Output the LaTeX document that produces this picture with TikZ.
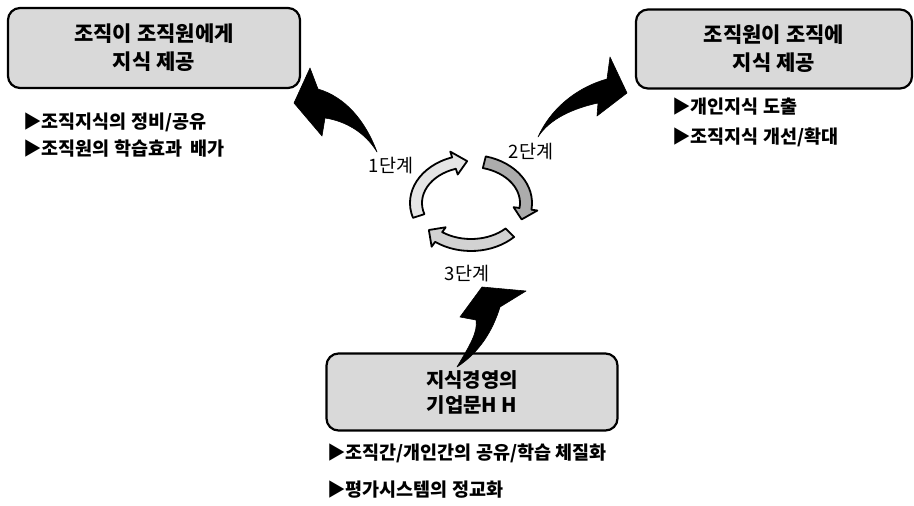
\documentclass[tikz,border=0pt]{standalone}
\usepackage{fontspec}
\setmainfont{Noto Sans CJK KR}
\usetikzlibrary{calc, positioning}

% one piece of the cycle: start, end, tip angle, fill
\newcommand{\cyclearc}[4]{%
  \filldraw[cycpart, fill=#4] ($(cc)+(#1:61 and 48)$)
    arc[start angle=#1, end angle=#2, x radius=61, y radius=48]
    -- ($(cc)+(#2:67 and 54)$) -- ($(cc)+(#3:55 and 42)$)
    -- ($(cc)+(#2:43 and 30)$) -- ($(cc)+(#2:49 and 36)$)
    arc[start angle=#2, end angle=#1, x radius=49, y radius=36] -- cycle;}

\begin{document}
\begin{tikzpicture}[x=1pt, y=-1pt,
  headbox/.style={draw=black, line width=2.2pt, rounded corners=12pt, fill=gray!30,
    align=center, inner sep=0pt, font=\fontsize{21}{28}\selectfont\bfseries},
  bullet/.style={anchor=west, inner sep=0pt, font=\fontsize{18.5}{20}\selectfont\bfseries},
  steplabel/.style={inner sep=0pt, font=\fontsize{18.5}{20}\selectfont},
  bigarrow/.style={fill=black, draw=black, line width=0.6pt, line join=round},
  cycpart/.style={draw=black, line width=1.8pt, line join=round}]
\useasboundingbox (0,0) rectangle (914,506);

% boxes
\node[headbox, minimum width=292pt, minimum height=80pt] (boxorg) at (154,48)
  {조직이 조직원에게\\지식 제공};
\node[headbox, minimum width=276pt, minimum height=79pt] (boxmem) at (774,49)
  {조직원이 조직에\\지식 제공};
\node[headbox, minimum width=291pt, minimum height=77pt, font=\fontsize{20}{25}\selectfont\bfseries] (boxbase) at (472,392)
  {지식경영의\\기업문H H};

% bullets
\node[bullet] (lb1) at (23,122) {▶조직지식의 정비/공유};
\node[bullet] (lb2) at (23,149) {▶조직원의 학습효과\ \ 배가};
\node[bullet] (rb1) at (672,107) {▶개인지식 도출};
\node[bullet] (rb2) at (672,137) {▶조직지식 개선/확대};
\node[bullet] (bb1) at (327,453) {▶조직간/개인간의 공유/학습 체질화};
\node[bullet] (bb2) at (327,490) {▶평가시스템의 정교화};

% cycle
\coordinate (cc) at (471,203);
\cyclearc{-198}{-108}{-94}{gray!20}
\cyclearc{-76}{8}{23}{gray!65}
\cyclearc{45}{126}{140}{gray!35}

% step labels
\node[steplabel] (s1) at (391,166) {1단계};
\node[steplabel] (s2) at (531,152) {2단계};
\node[steplabel] (s3) at (467,274) {3단계};

% big arrows
\filldraw[bigarrow] (377,152) .. controls (365,120) and (345,97) .. (318,89)
  -- (310,68) -- (294,103) -- (322,136) -- (325,118)
  .. controls (345,121) and (365,132) .. (377,152) -- cycle;
\filldraw[bigarrow] (538,137) .. controls (550,110) and (575,88) .. (607,79)
  -- (610,57) -- (627,93) -- (597,116) -- (598,103)
  .. controls (575,108) and (550,118) .. (538,137) -- cycle;
\filldraw[bigarrow] (457,367) .. controls (470,345) and (478,332) .. (476,320)
  -- (460,317) -- (482,287) -- (526,291) -- (500,307)
  .. controls (493,330) and (480,352) .. (457,367) -- cycle;
\end{tikzpicture}
\end{document}
